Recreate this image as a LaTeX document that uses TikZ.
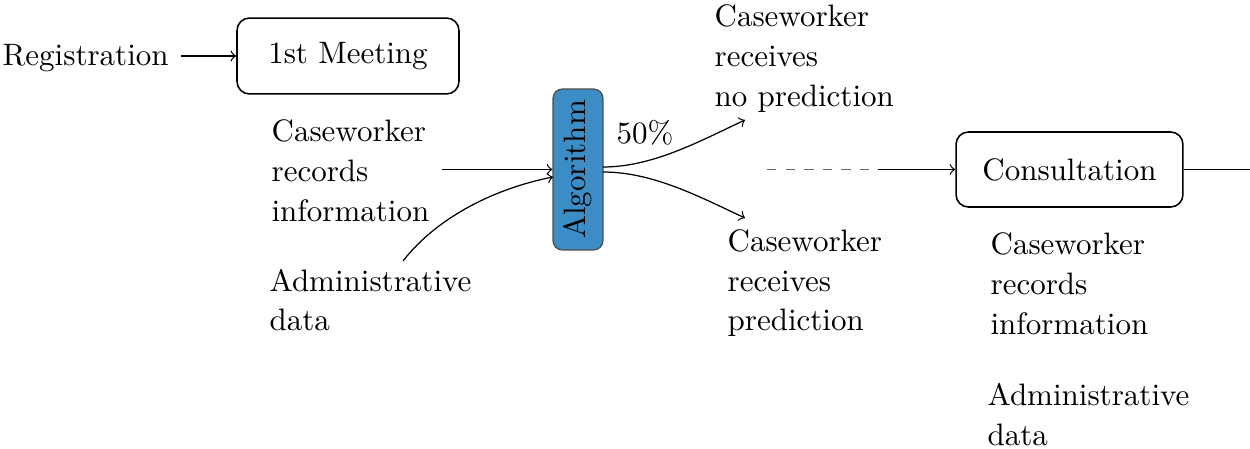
\documentclass[tikz,border=0pt]{standalone}
\definecolor{algblue}{RGB}{60,141,198}
\begin{document}
\begin{tikzpicture}[x=0.32258pt,y=-0.32258pt,
  txt/.style={anchor=base west, align=left, inner sep=0pt, font=\fontsize{10}{12.8}\selectfont},
  box/.style={draw, rounded corners=4pt, inner sep=0pt, line width=0.5pt},
  conn/.style={->, line width=0.4pt}]
\useasboundingbox (0,0) rectangle (1250,449);
% texts (base = baseline of last line)
\node[txt] (reg) at (2,65) {Registration};
\node[txt] (cwl) at (271,221) {Caseworker\\records\\information};
\node[txt] (adl) at (269,331) {Administrative\\data};
\node[txt] (pct) at (616,143) {50\%};
\node[txt] (nop) at (714,106) {Caseworker\\receives\\no prediction};
\node[txt] (yep) at (727,331) {Caseworker\\receives\\prediction};
\node[txt] (cwr) at (990,334) {Caseworker\\records\\information};
\node[txt] (adr) at (987,445) {Administrative\\data};
% boxes
\node[box, minimum width=71.6pt, minimum height=24.5pt] (m1) at (348,56) {1st Meeting};
\node[box, minimum width=73.2pt, minimum height=24.2pt] (cons) at (1069.5,169.5) {Consultation};
\node[draw=black!70, fill=algblue, rounded corners=3pt, inner sep=0pt,
      minimum width=16.1pt, minimum height=51.9pt] (alg) at (578,169.5) {\rotatebox{90}{Algorithm}};
% coordinates
\coordinate (regout) at (181,56);
\coordinate (cwout) at (442,169.5);
\coordinate (adout) at (403,261);
\coordinate (algin2) at (553,177);
\coordinate (algo1) at (603,167);
\coordinate (algo2) at (603,172);
\coordinate (t1) at (745,120);
\coordinate (t2) at (745,218);
\coordinate (d1) at (767,169.5);
\coordinate (d2) at (878,169.5);
\coordinate (rend) at (1250,169.5);
% connectors
\draw[conn] (regout) -- (m1.west);
\draw[conn] (cwout) -- (alg.west);
\draw[conn] (adout) .. controls (438,216) and (497,188) .. (algin2);
\draw[conn] (algo1) .. controls (653,167) and (700,141) .. (t1);
\draw[conn] (algo2) .. controls (653,172) and (700,197) .. (t2);
\draw[dashed, black!60] (d1) -- (d2);
\draw[conn] (d2) -- (cons.west);
\draw[line width=0.4pt] (cons.east) -- (rend);
\end{tikzpicture}
\end{document}
